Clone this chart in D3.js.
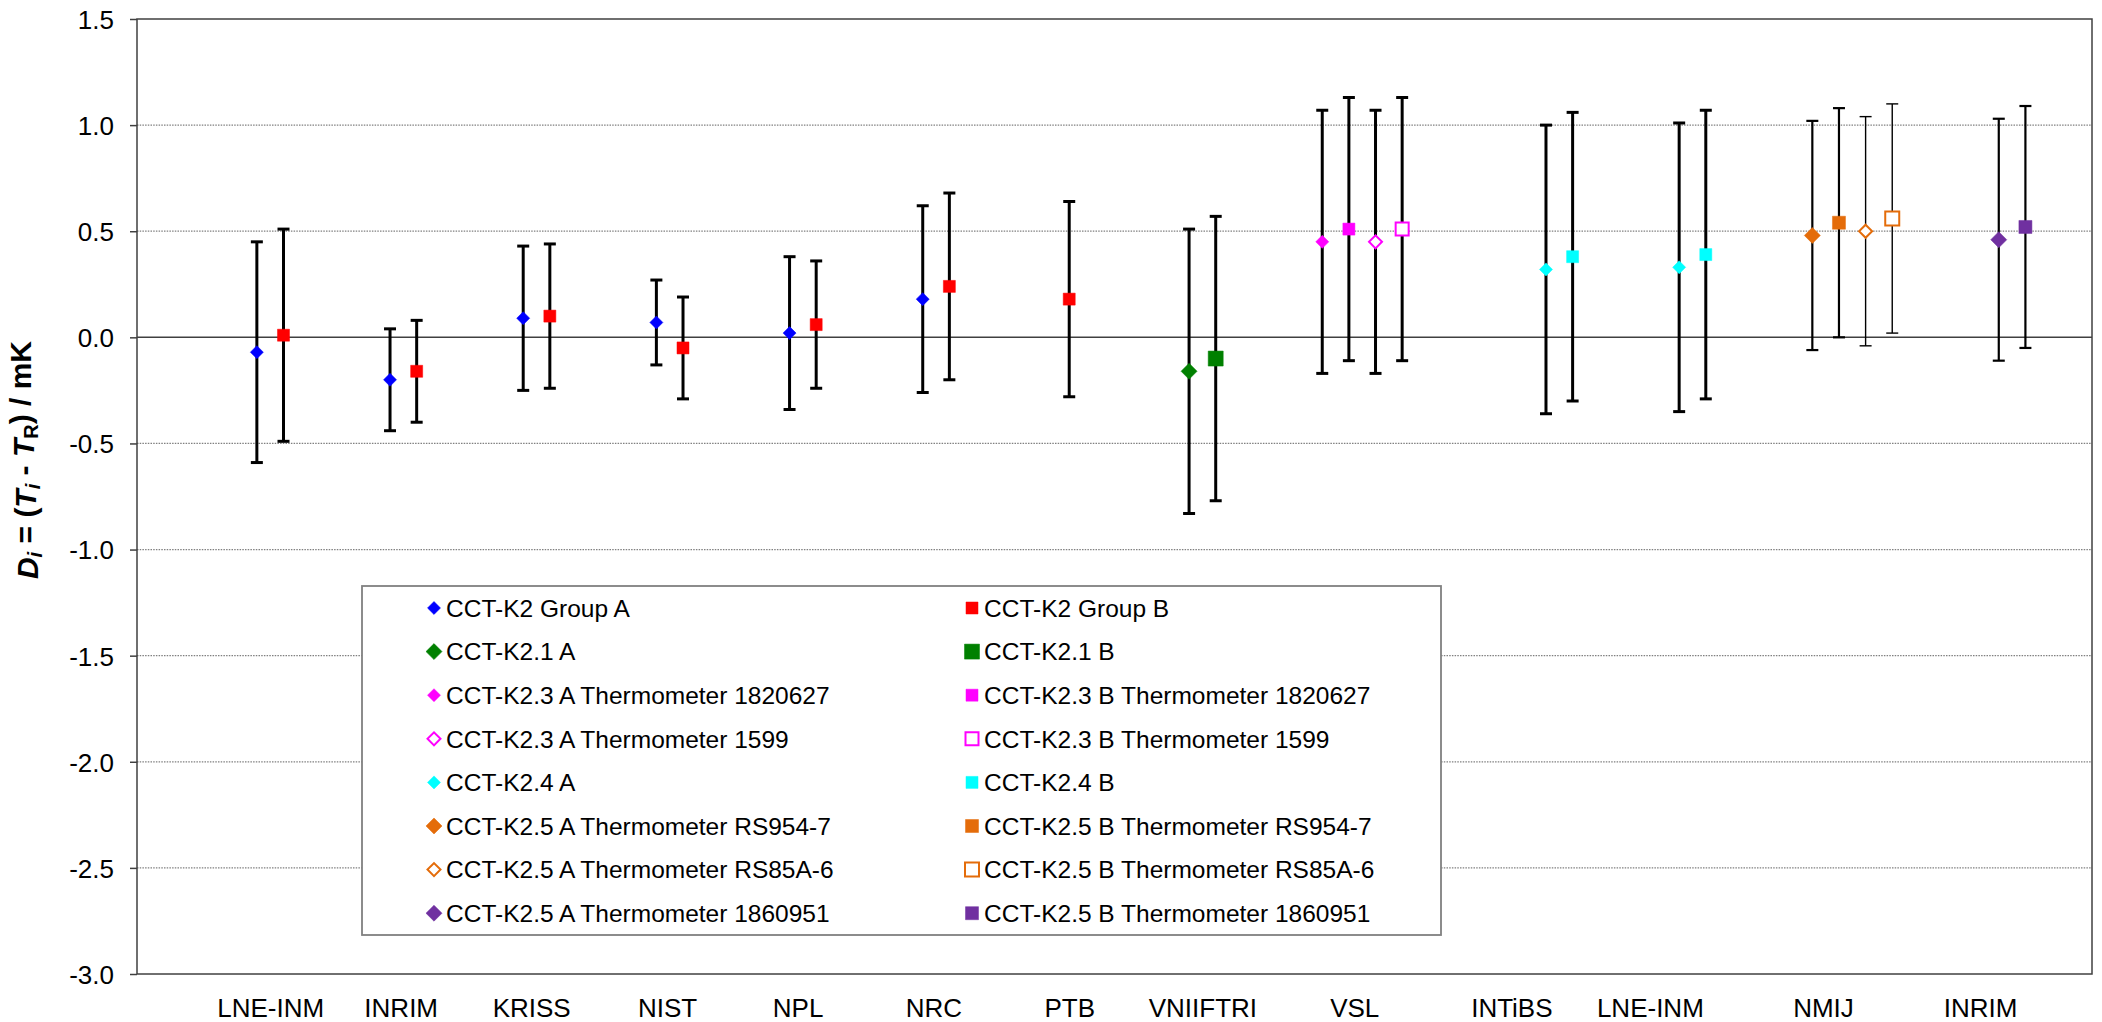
<!DOCTYPE html>
<html>
<head>
<meta charset="utf-8">
<script src="https://cdn.jsdelivr.net/npm/d3@7"></script>
<style>
	body { margin: 0; background: #fff; }
	svg { display: block; font-family: "Liberation Sans", Arial, sans-serif; }
	.grid line { stroke: #808080; stroke-width: 1.2; stroke-dasharray: 1.5 1.2; }
	.zero { stroke: #404040; stroke-width: 1.5; }
	.frame { fill: none; stroke: #404040; stroke-width: 1.5; }
	.axis path, .axis line { stroke: #404040; stroke-width: 1.5; }
	.axis text { font-size: 26px; fill: #000; font-family: "Liberation Sans", Arial, sans-serif; }
	.bar { stroke: #000; fill: none; }
	.legendBox { fill: #fff; stroke: #808080; stroke-width: 1.8; }
	.legendText { font-size: 24.5px; fill: #000; }
	.yTitle { font-size: 30px; font-weight: bold; fill: #000; }
</style>
</head>
<body>
<svg id="chart"></svg>
<script>
'use strict'

// x axis labels and where they sit (x data units)
const labs = ['LNE-INM', 'INRIM', 'KRISS', 'NIST', 'NPL', 'NRC', 'PTB', 'VNIIFTRI', 'VSL', 'INTiBS', 'LNE-INM', 'NMIJ', 'INRIM']
const labX = [5, 9.9, 14.8, 19.9, 24.8, 29.9, 35, 40, 45.7, 51.6, 56.8, 63.3, 69.2]
const yTicks = [-3, -2.5, -2, -1.5, -1, -0.5, 0, 0.5, 1, 1.5]

const names = [
	'CCT-K2 Group A', 'CCT-K2 Group B',
	'CCT-K2.1 A', 'CCT-K2.1 B',
	'CCT-K2.3 A Thermometer 1820627', 'CCT-K2.3 B Thermometer 1820627',
	'CCT-K2.3 A Thermometer 1599', 'CCT-K2.3 B Thermometer 1599',
	'CCT-K2.4 A', 'CCT-K2.4 B',
	'CCT-K2.5 A Thermometer RS954-7', 'CCT-K2.5 B Thermometer RS954-7',
	'CCT-K2.5 A Thermometer RS85A-6', 'CCT-K2.5 B Thermometer RS85A-6',
	'CCT-K2.5 A Thermometer 1860951', 'CCT-K2.5 B Thermometer 1860951'
]

// x values, D_i values, upper and lower ends of the uncertainty bars (mK)
const xs = [
	[4.5, 9.5, 14.5, 19.5, 24.5, 29.5], [5.5, 10.5, 15.5, 20.5, 25.5, 30.5, 35],
	[39.5], [40.5],
	[44.5], [45.5],
	[46.5], [47.5],
	[52.9, 57.9], [53.9, 58.9],
	[62.9], [63.9],
	[64.9], [65.9],
	[69.9], [70.9]
]
const vals = [
	[-0.07, -0.20, 0.09, 0.07, 0.02, 0.18], [0.01, -0.16, 0.10, -0.05, 0.06, 0.24, 0.18],
	[-0.16], [-0.10],
	[0.45], [0.51],
	[0.45], [0.51],
	[0.32, 0.33], [0.38, 0.39],
	[0.48], [0.54],
	[0.50], [0.56],
	[0.46], [0.52]
]
const highs = [
	[0.45, 0.04, 0.43, 0.27, 0.38, 0.62], [0.51, 0.08, 0.44, 0.19, 0.36, 0.68, 0.64],
	[0.51], [0.57],
	[1.07], [1.13],
	[1.07], [1.13],
	[1.00, 1.01], [1.06, 1.07],
	[1.02], [1.08],
	[1.04], [1.10],
	[1.03], [1.09]
]
const lows = [
	[-0.59, -0.44, -0.25, -0.13, -0.34, -0.26], [-0.49, -0.40, -0.24, -0.29, -0.24, -0.20, -0.28],
	[-0.83], [-0.77],
	[-0.17], [-0.11],
	[-0.17], [-0.11],
	[-0.36, -0.35], [-0.30, -0.29],
	[-0.06], [0.00],
	[-0.04], [0.02],
	[-0.11], [-0.05]
]

// marker style per series: shape, colour, filled, size (px), error bar width
const styles = [
	['diamond', '#0000ff', true, 13, 3], ['square', '#ff0000', true, 12, 3],
	['diamond', '#008000', true, 16, 3], ['square', '#008000', true, 15, 3],
	['diamond', '#ff00ff', true, 13, 3], ['square', '#ff00ff', true, 12, 3],
	['diamond', '#ff00ff', false, 13, 3], ['square', '#ff00ff', false, 13, 3],
	['diamond', '#00ffff', true, 13, 3], ['square', '#00ffff', true, 12, 3],
	['diamond', '#e46c0a', true, 16, 2.2], ['square', '#e46c0a', true, 13, 2.2],
	['diamond', '#e46c0a', false, 13, 1.4], ['square', '#e46c0a', false, 14, 1.4],
	['diamond', '#7030a0', true, 16, 2.2], ['square', '#7030a0', true, 13, 2.2]
]

const W = 2102, H = 1022
const margins = {top: 19, right: 10, bottom: 48, left: 137}
const chartWidth = W - margins.left - margins.right
const chartHeight = H - margins.top - margins.bottom

const x = d3.scaleLinear().domain([0, 73.4]).range([0, chartWidth])
const y = d3.scaleLinear().domain([-3, 1.5]).range([chartHeight, 0])

const svg = d3.select('#chart').attr('width', W).attr('height', H)
const g = svg.append('g').attr('transform', 'translate(' + margins.left + ',' + margins.top + ')')

// dotted gridlines
g.append('g').classed('grid', true)
	.selectAll('line')
	.data(yTicks.filter((d) => d !== 0 && d !== -3 && d !== 1.5))
	.enter().append('line')
	.attr('x1', 0).attr('x2', chartWidth)
	.attr('y1', (d) => y(d)).attr('y2', (d) => y(d))

g.append('line').classed('zero', true)
	.attr('x1', 0).attr('x2', chartWidth)
	.attr('y1', y(0)).attr('y2', y(0))

g.append('rect').classed('frame', true)
	.attr('width', chartWidth).attr('height', chartHeight)

// y axis
const yAxis = g.append('g').classed('axis', true)
	.call(d3.axisLeft(y).tickValues(yTicks).tickSize(7).tickPadding(16).tickFormat((d) => d.toFixed(1)))
yAxis.select('.domain').remove()
yAxis.selectAll('text').attr('dy', '0.36em')

// x axis labels (no ticks)
const xAxis = g.append('g').classed('axis', true)
	.attr('transform', 'translate(0,' + chartHeight + ')')
	.call(d3.axisBottom(x).tickValues(labX).tickSize(0).tickPadding(24.5).tickFormat((d, i) => labs[i]))
xAxis.select('.domain').remove()

// marker path builder
function markerPath (st) {
	const size = st[3]
	if (st[0] === 'diamond') return d3.symbol().type(d3.symbolSquare).size(size * size / 2)()
	return d3.symbol().type(d3.symbolSquare).size(size * size)()
}
function drawMarker (sel, st) {
	sel.append('path')
		.attr('d', markerPath(st))
		.attr('transform', (st[0] === 'diamond' ? 'rotate(45)' : ''))
		.attr('fill', st[2] ? st[1] : '#fff')
		.attr('stroke', st[1])
		.attr('stroke-width', st[2] ? 0.5 : 2)
}

// series: error bars then markers
names.forEach((name, s) => {
	const st = styles[s]
	const pts = xs[s].map((xv, i) => ({x: xv, v: vals[s][i], hi: highs[s][i], lo: lows[s][i]}))
	const sg = g.append('g').classed('series', true)
	const bar = sg.selectAll('.bar').data(pts).enter().append('g').classed('bar', true)
		.attr('stroke-width', st[4])
	bar.append('line')
		.attr('x1', (d) => x(d.x)).attr('x2', (d) => x(d.x))
		.attr('y1', (d) => y(d.hi)).attr('y2', (d) => y(d.lo))
	bar.append('line')
		.attr('x1', (d) => x(d.x) - 6).attr('x2', (d) => x(d.x) + 6)
		.attr('y1', (d) => y(d.hi)).attr('y2', (d) => y(d.hi))
	bar.append('line')
		.attr('x1', (d) => x(d.x) - 6).attr('x2', (d) => x(d.x) + 6)
		.attr('y1', (d) => y(d.lo)).attr('y2', (d) => y(d.lo))
	const mk = sg.selectAll('.mk').data(pts).enter().append('g').classed('mk', true)
		.attr('transform', (d) => 'translate(' + x(d.x) + ',' + y(d.v) + ')')
	drawMarker(mk, st)
})

// legend
const legend = svg.append('g').attr('transform', 'translate(362,586)')
legend.append('rect').classed('legendBox', true).attr('width', 1079).attr('height', 349)
const rowH = 43.6
names.forEach((name, s) => {
	const col = s % 2, row = Math.floor(s / 2)
	const item = legend.append('g')
		.attr('transform', 'translate(' + (col === 0 ? 72 : 610) + ',' + (22 + row * rowH) + ')')
	drawMarker(item, styles[s])
	item.append('text').classed('legendText', true)
		.attr('x', 12).attr('dy', '0.36em')
		.text(name)
})

// y axis title
const title = svg.append('text').classed('yTitle', true)
	.attr('transform', 'translate(38,' + 460 + ') rotate(-90)')
	.attr('text-anchor', 'middle')
title.append('tspan').attr('font-style', 'italic').text('D')
title.append('tspan').attr('font-style', 'italic').attr('font-size', '20px').attr('dy', '0.22em').text('i')
title.append('tspan').attr('dy', '-0.22em').text(' = (')
title.append('tspan').attr('font-style', 'italic').text('T')
title.append('tspan').attr('font-style', 'italic').attr('font-size', '20px').attr('dy', '0.22em').text('i')
title.append('tspan').attr('dy', '-0.22em').text(' - ')
title.append('tspan').attr('font-style', 'italic').text('T')
title.append('tspan').attr('font-size', '20px').attr('dy', '0.22em').text('R')
title.append('tspan').attr('dy', '-0.22em').text(') / mK')
</script>
</body>
</html>
